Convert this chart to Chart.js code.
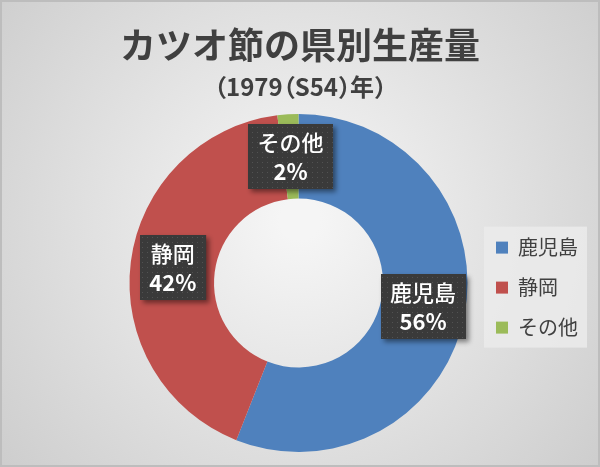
<!DOCTYPE html>
<html>
<head>
<meta charset="utf-8">
<script src="https://cdn.jsdelivr.net/npm/chart.js@4"></script>
<style>
  html, body { margin: 0; padding: 0; background: #d6d6d6; }
  #wrap { width: 600px; height: 467px; position: relative; }
</style>
</head>
<body>
<div id="wrap"><canvas id="chart" width="600" height="467"></canvas></div>
<script>
// ===== Data =====
const labels = ['鹿児島', '静岡', 'その他'];
const shares = [56, 42, 2];
const colors = ['#4f81bd', '#c0504d', '#9bbb59'];
const titleText = 'カツオ節の県別生産量';
const subtitleText = '（1979（S54）年）';

const FONT = '"Noto Sans CJK JP", "Noto Sans", sans-serif';
const TEXT = '#404040';

// gray radial background + legend panel
const backdrop = {
  id: 'backdrop',
  beforeDraw(chart) {
    const { ctx, width, height } = chart;
    ctx.save();
    const g = ctx.createRadialGradient(300, 220, 20, 300, 220, 390);
    g.addColorStop(0, '#f5f5f5');
    g.addColorStop(1, '#cdcdcd');
    ctx.fillStyle = g;
    ctx.fillRect(0, 0, width, height);
    ctx.strokeStyle = '#bdbdbd';
    ctx.lineWidth = 2;
    ctx.strokeRect(1, 1, width - 2, height - 2);

    const boxes = chart.legend.legendHitBoxes;
    if (boxes && boxes.length) {
      const l = Math.min(...boxes.map(b => b.left)) - 12;
      const r = Math.max(...boxes.map(b => b.left + b.width)) + 9;
      const t = boxes[0].top - 11;
      const last = boxes[boxes.length - 1];
      const b = last.top + last.height + 10;
      ctx.fillStyle = 'rgba(235,235,235,0.85)';
      ctx.fillRect(l, t, r - l, b - t);
    }
    ctx.restore();
  }
};

// title block, centred on the whole canvas (full-width parens drawn tight)
const heading = {
  id: 'heading',
  afterDraw(chart) {
    const { ctx, width } = chart;
    ctx.save();
    ctx.fillStyle = TEXT;
    ctx.textBaseline = 'middle';
    ctx.textAlign = 'center';
    ctx.font = 'bold 36px ' + FONT;
    ctx.fillText(titleText, width / 2, 45);

    ctx.font = 'bold 24px ' + FONT;
    ctx.textAlign = 'left';
    const chars = [...subtitleText];
    const adv = c => (c === '（' || c === '）') ? 12 : ctx.measureText(c).width;
    const total = chars.reduce((s, c) => s + adv(c), 0);
    let x = width / 2 - total / 2;
    chars.forEach(c => {
      ctx.fillText(c, c === '（' ? x - 11 : x, 87);
      x += adv(c);
    });
    ctx.restore();
  }
};

// dark dotted label boxes on each slice
const sliceLabels = {
  id: 'sliceLabels',
  afterDatasetsDraw(chart) {
    const { ctx } = chart;
    const meta = chart.getDatasetMeta(0);
    const total = shares.reduce((a, b) => a + b, 0);

    const tile = document.createElement('canvas');
    tile.width = 5; tile.height = 5;
    const tc = tile.getContext('2d');
    tc.fillStyle = '#3a3a3a';
    tc.fillRect(0, 0, 5, 5);
    tc.fillStyle = '#525252';
    tc.fillRect(2, 2, 1, 1);
    const pattern = ctx.createPattern(tile, 'repeat');

    meta.data.forEach((arc, i) => {
      const pos = arc.tooltipPosition();
      const pct = Math.round(shares[i] / total * 100) + '%';
      ctx.save();
      ctx.font = 'bold 22px ' + FONT;
      const w = Math.max(ctx.measureText(labels[i]).width, ctx.measureText(pct).width) + 19;
      const h = 65;
      const x = Math.round(pos.x - w / 2);
      const y = Math.round(pos.y - h / 2);

      ctx.shadowColor = 'rgba(0,0,0,0.45)';
      ctx.shadowBlur = 5;
      ctx.shadowOffsetX = 3;
      ctx.shadowOffsetY = 3;
      ctx.fillStyle = pattern;
      ctx.fillRect(x, y, w, h);
      ctx.shadowColor = 'transparent';

      ctx.fillStyle = '#ffffff';
      ctx.textAlign = 'center';
      ctx.textBaseline = 'middle';
      ctx.font = '500 22px ' + FONT;
      ctx.fillText(labels[i], pos.x, y + 19);
      ctx.font = 'bold 22px ' + FONT;
      ctx.fillText(pct, pos.x, y + 48);
      ctx.restore();
    });
  }
};

new Chart(document.getElementById('chart'), {
  type: 'doughnut',
  data: {
    labels: labels,
    datasets: [{
      data: shares,
      backgroundColor: colors,
      borderWidth: 0
    }]
  },
  options: {
    responsive: false,
    animation: false,
    cutout: '50%',
    layout: { padding: { left: 121, right: 12, top: 114, bottom: 15 } },
    plugins: {
      title: { display: false },
      legend: {
        position: 'right',
        fullSize: false,
        title: {
          display: true,
          text: ' ',
          font: { size: 1 },
          padding: { top: 0, bottom: 8 }
        },
        labels: {
          boxWidth: 12,
          boxHeight: 12,
          padding: 20,
          color: TEXT,
          font: { family: FONT, size: 20 }
        }
      },
      tooltip: { enabled: false }
    }
  },
  plugins: [backdrop, heading, sliceLabels]
});
</script>
</body>
</html>
